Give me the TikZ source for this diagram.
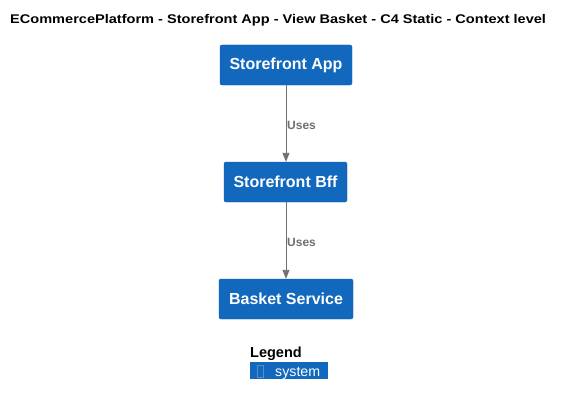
\documentclass[tikz,border=0pt]{standalone}
\usepackage{fontspec}
\setmainfont{Liberation Sans}
\usetikzlibrary{arrows.meta}
\definecolor{sysblue}{HTML}{1168BD}
\definecolor{sysedge}{HTML}{0F5EAA}
\definecolor{relgray}{HTML}{707070}
\tikzset{
  sysbox/.style={draw=sysedge, fill=sysblue, rounded corners=2pt, text=white,
    font=\fontsize{16}{19}\selectfont\bfseries, inner sep=0pt, minimum height=40pt},
  rel/.style={draw=relgray, line width=0.9pt, -{Triangle[width=7pt,length=9pt]}},
  rellabel/.style={text=relgray, font=\fontsize{12}{14}\selectfont\bfseries, anchor=west, inner sep=0pt},
}
\begin{document}
\begin{tikzpicture}[x=1pt,y=-1pt]
\useasboundingbox (0,0) rectangle (564,404);
\fill[white] (0,0) rectangle (564,404);
\node[anchor=base west, inner sep=0pt, font=\fontsize{12.6}{14}\selectfont\bfseries] (title) at (10,24) {\scalebox{1.155}[1]{ECommercePlatform - Storefront App - View Basket - C4 Static - Context level}};
\node[sysbox, minimum width=132pt] (app) at (286,65) {Storefront App};
\node[sysbox, minimum width=123pt] (bff) at (285.5,182) {Storefront Bff};
\node[sysbox, minimum width=134pt] (basket) at (286,299) {Basket Service};
\draw[rel] (app.south -| 286,0) -- (bff.north -| 286,0);
\draw[rel] (bff.south -| 286,0) -- (basket.north -| 286,0);
\node[rellabel] (l1) at (287,125) {Uses};
\node[rellabel] (l2) at (287,242) {Uses};
\node[anchor=base west, inner sep=0pt, font=\fontsize{14.5}{16}\selectfont\bfseries] (legend) at (250,357) {Legend};
\node[draw=none, fill=sysblue, anchor=north west, minimum width=78pt, minimum height=17pt, inner sep=0pt] (legbox) at (250,362) {};
\draw[draw=sysedge!70!white, line width=0.6pt] (257.5,365.5) rectangle (263.5,377.5);
\node[anchor=base west, inner sep=0pt, text=white, font=\fontsize{14.2}{16}\selectfont] (legtext) at (275,376) {system};
\end{tikzpicture}
\end{document}
